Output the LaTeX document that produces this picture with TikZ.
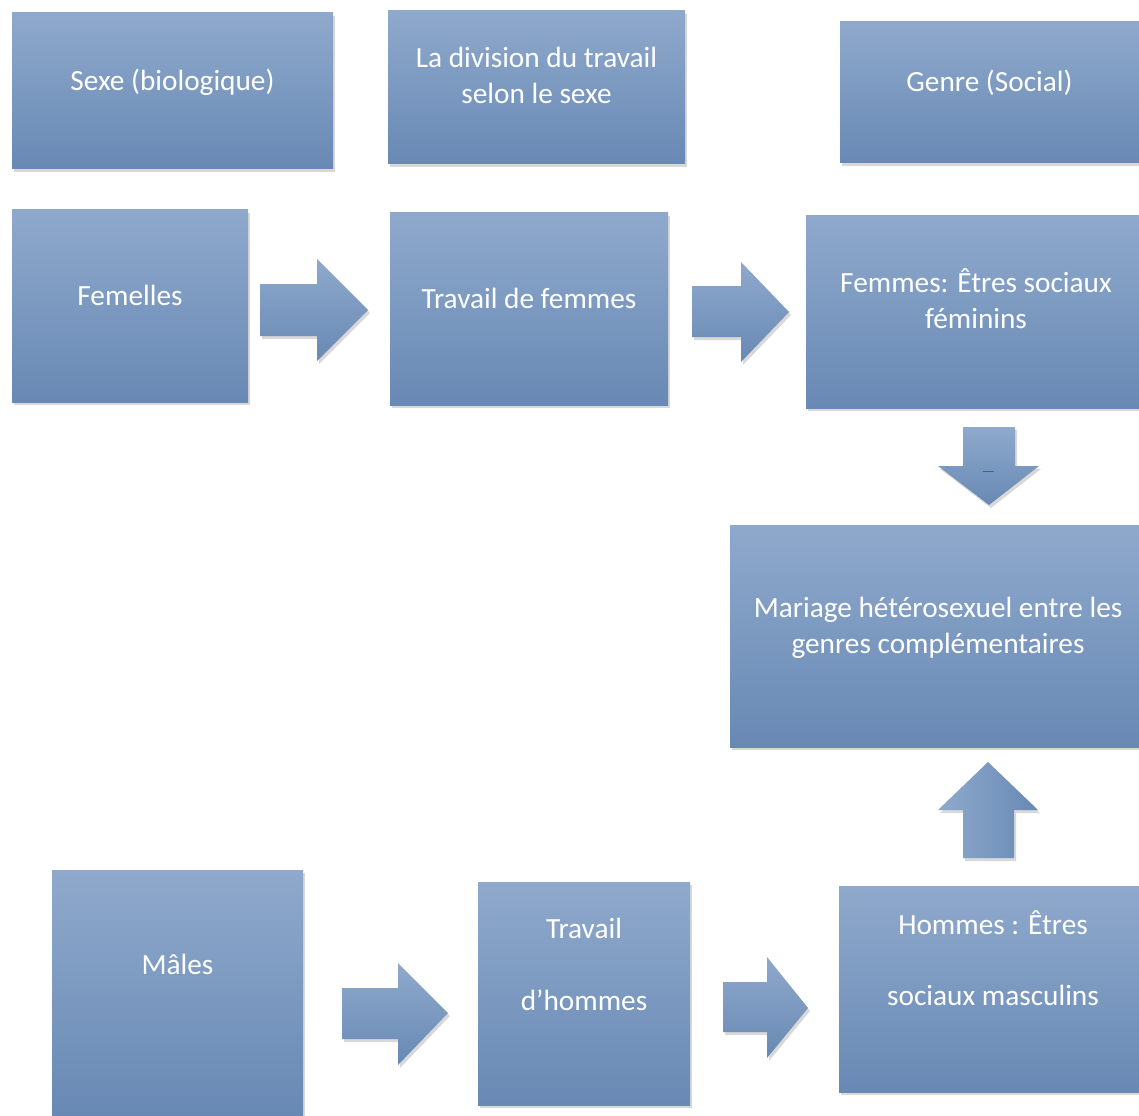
\documentclass[tikz,border=0pt]{standalone}
\usepackage{fontspec}
\setmainfont{Carlito}
\usepackage{tikz}
\usetikzlibrary{shadows}

\definecolor{bleuhaut}{RGB}{143,169,204}
\definecolor{bleubas}{RGB}{104,137,180}

\tikzset{
    boite/.style={rectangle, inner sep=0pt, top color=bleuhaut, bottom color=bleubas,
        drop shadow={opacity=0.3, shadow xshift=2pt, shadow yshift=-3pt}},
    texte/.style={text=white, align=center, inner sep=0pt,
        font=\fontsize{29.3}{35.8}\selectfont},
    fleche/.style={top color=bleuhaut, bottom color=bleubas,
        drop shadow={opacity=0.3, shadow xshift=2pt, shadow yshift=-3pt}},
}

\begin{document}
\begin{tikzpicture}[x=1pt, y=-1pt]
    \fill[white] (0,0) rectangle (1139,1115);
    \useasboundingbox (0,0) rectangle (1139,1115);

    % en-tetes
    \node[boite, minimum width=321pt, minimum height=156pt] (sexe) at (172.5,91) {};
    \node[boite, minimum width=297pt, minimum height=153pt] (division) at (536.5,87.5) {};
    \node[boite, minimum width=301pt, minimum height=141pt] (genre) at (990.5,92.5) {};

    \node[texte] (sexe-t) at (172.5,82.3) {Sexe (biologique)};
    \node[texte] (division-t) at (536.5,75.6) {La division du travail\\selon le sexe};
    \node[texte] (genre-t) at (989.5,83) {Genre (Social)};

    % ligne des femmes
    \node[boite, minimum width=236pt, minimum height=192pt] (femelles) at (130,306) {};
    \node[boite, minimum width=278pt, minimum height=192pt] (travfem) at (529,309) {};
    \node[boite, minimum width=340pt, minimum height=192pt] (femmes) at (976,312) {};

    \node[texte] (femelles-t) at (130,295.5) {Femelles};
    \node[texte] (travfem-t) at (529,298.6) {Travail de femmes};
    \node[texte] (femmes-t) at (976,299) {Femmes: Êtres sociaux\\féminins};

    \path[fleche] (260,284) -- (317,284) -- (317,259) -- (368,310)
        -- (317,361) -- (317,336) -- (260,336) -- cycle;
    \path[fleche] (692,286) -- (741,286) -- (741,262) -- (789,312)
        -- (741,362) -- (741,337) -- (692,337) -- cycle;

    % vers le mariage
    \path[fleche] (963,427) -- (1015,427) -- (1015,466) -- (1039,466)
        -- (989,505) -- (938,466) -- (963,466) -- cycle;
    \draw[bleubas!70!black, line width=0.8pt] (983,471) -- (994,471);

    \node[boite, minimum width=416pt, minimum height=222pt] (mariage) at (938,636) {};
    \node[texte] (mariage-t) at (938,627.5) {Mariage hétérosexuel entre les\\genres complémentaires};

    \path[fleche, left color=bleuhaut, right color=bleubas] (963,858) -- (963,810) -- (938,810)
        -- (988,762) -- (1038,810) -- (1014,810) -- (1014,858) -- cycle;

    % ligne des hommes
    \node[boite, minimum width=251pt, minimum height=245pt] (males) at (177.5,992.5) {};
    \node[boite, minimum width=212pt, minimum height=223pt] (travhom) at (584,993.5) {};
    \node[boite, minimum width=308pt, minimum height=206pt] (hommes) at (993,989) {};

    \node[texte] (males-t) at (177.5,964.5) {Mâles};
    \node[texte] (travhom-t) at (584,964.6) {Travail\\[36pt]d’hommes};
    \node[texte] (hommes-t) at (993,958.5) {Hommes : Êtres\\[35pt]sociaux masculins};

    \path[fleche] (342,988) -- (398,988) -- (398,963) -- (448,1013)
        -- (398,1065) -- (398,1039) -- (342,1039) -- cycle;
    \path[fleche] (723,982) -- (767,982) -- (767,957) -- (808,1008)
        -- (767,1058) -- (767,1032) -- (723,1032) -- cycle;

\end{tikzpicture}
\end{document}
